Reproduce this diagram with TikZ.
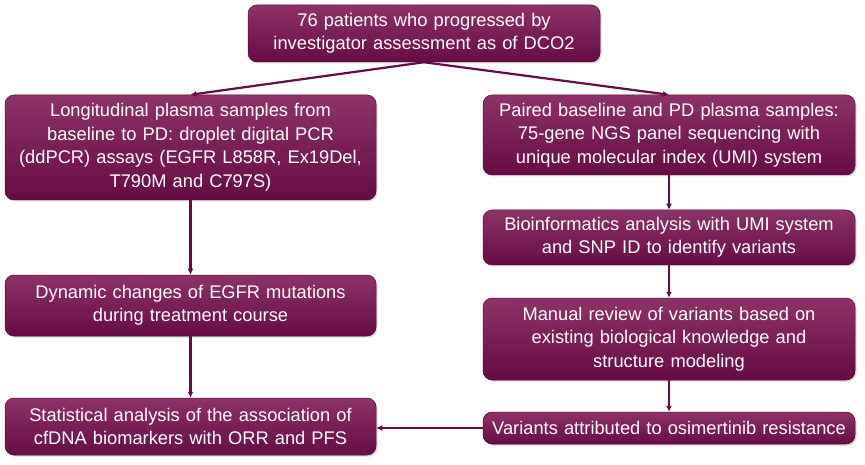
\documentclass[tikz,border=0pt]{standalone}
\usepackage{fontspec}
\setmainfont{Liberation Sans}
\usepackage{tikz}
\usetikzlibrary{arrows.meta}
\usetikzlibrary{shadows}
\usepackage{xcolor}
\definecolor{plumdark}{HTML}{660B44}
\definecolor{plummid}{HTML}{6E1049}
\definecolor{plumlight}{HTML}{8E3368}

\begin{document}
\begin{tikzpicture}[x=1pt,y=-1pt,
		flowbox/.style={rounded corners=9pt, top color=plumlight, middle color=plummid, bottom color=plumdark,
			draw=plumdark!80!black, line width=0.5pt, drop shadow={opacity=0.3,shadow xshift=1.5pt,shadow yshift=-1.5pt},
			text=white, align=center, font=\fontsize{18.3}{23.5}\selectfont, inner sep=2pt},
		flowline/.style={plumdark, line width=2.2pt, -{Latex[length=6pt,width=6pt]}}]
		\useasboundingbox (0,0) rectangle (865,465);
		
		% Top
		\node[flowbox, minimum width=352, minimum height=57, text width=346] (start) at (424,33.5)
		{76 patients who progressed by\\investigator assessment as of DCO2};
		
		% Left column
		\node[flowbox, minimum width=371, minimum height=105, text width=365] (ddpcr) at (190.5,147.5)
		{Longitudinal plasma samples from\\baseline to PD: droplet digital PCR\\(ddPCR) assays (EGFR L858R, Ex19Del,\\T790M and C797S)};
		\node[flowbox, minimum width=371, minimum height=61, text width=365] (dynamic) at (190.5,305.5)
		{Dynamic changes of EGFR mutations\\during treatment course};
		\node[flowbox, minimum width=371, minimum height=57, text width=365] (stats) at (190.5,426.5)
		{Statistical analysis of the association of\\cfDNA biomarkers with ORR and PFS};
		
		% Right column
		\node[flowbox, minimum width=372, minimum height=80, text width=366] (ngs) at (669,135)
		{Paired baseline and PD plasma samples:\\75-gene NGS panel sequencing with\\unique molecular index (UMI) system};
		\node[flowbox, minimum width=372, minimum height=55, text width=366] (bioinf) at (669,237.5)
		{Bioinformatics analysis with UMI system\\and SNP ID to identify variants};
		\node[flowbox, minimum width=372, minimum height=82, text width=366] (review) at (669,339)
		{Manual review of variants based on\\existing biological knowledge and\\structure modeling};
		\node[flowbox, minimum width=372, minimum height=32, text width=366] (resist) at (669,428)
		{Variants attributed to osimertinib resistance};
		
		% Connectors
		\draw[flowline] (start.south) -- (ddpcr.north);
		\draw[flowline] (start.south) -- (ngs.north);
		\draw[flowline] (ddpcr) -- (dynamic);
		\draw[flowline] (dynamic) -- (stats);
		\draw[flowline] (ngs) -- (bioinf);
		\draw[flowline] (bioinf) -- (review);
		\draw[flowline] (review) -- (resist);
		\draw[flowline] (resist.west) -- (resist.west -| stats.east);
	\end{tikzpicture}
\end{document}
